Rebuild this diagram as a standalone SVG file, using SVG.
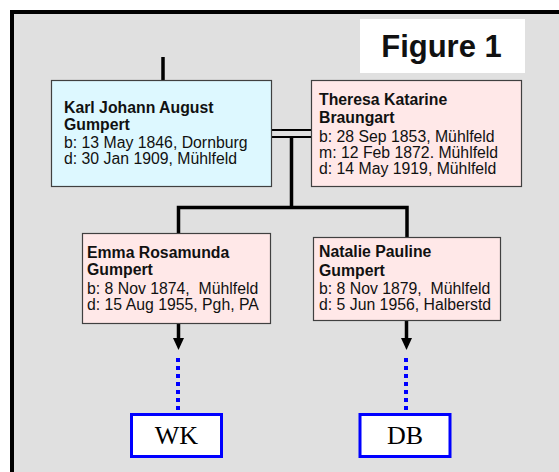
<svg xmlns="http://www.w3.org/2000/svg" width="559" height="472" viewBox="0 0 559 472">
<style>
.frame{fill:#e0e0e0;stroke:#000;stroke-width:4}
.box{stroke:#404040;stroke-width:1.2}
.m{fill:#ddf8ff}
.f{fill:#ffe8e8}
.name{font-family:"Liberation Sans",Arial,sans-serif;font-weight:bold;font-size:15.8px;fill:#111}
.det{font-family:"Liberation Sans",Arial,sans-serif;font-size:15.8px;fill:#111;white-space:pre}
.ln{stroke:#000;stroke-width:3.5;fill:none}
.dbl{stroke:#000;stroke-width:2;fill:none}
.dot{stroke:#0000ff;stroke-width:4;stroke-dasharray:4 4;fill:none}
.ref{fill:#fff;stroke:#0000ff;stroke-width:3}
.reft{font-family:"Liberation Serif","Times New Roman",serif;font-size:26px;fill:#000;text-anchor:middle}
</style>
<defs>
<marker id="ah" markerUnits="userSpaceOnUse" markerWidth="12" markerHeight="11" refX="2" refY="5.5" orient="auto" viewBox="0 0 12 11">
<path d="M0,0 L12,5.5 L0,11 Z" fill="#000"/>
</marker>
</defs>
<rect x="0" y="0" width="559" height="472" fill="#fff"/>
<rect class="frame" x="12" y="12" width="600" height="520"/>
<g id="title">
<rect x="360" y="19" width="165" height="54" fill="#fff"/>
<text x="441.5" y="57" font-family="Liberation Sans,Arial,sans-serif" font-weight="bold" font-size="31" text-anchor="middle" fill="#111">Figure 1</text>
</g>
<g id="connectors">
<line class="ln" x1="163" y1="57" x2="163" y2="80"/>
<line class="dbl" x1="272" y1="130" x2="311" y2="130"/>
<line class="dbl" x1="272" y1="137" x2="311" y2="137"/>
<line class="ln" x1="291.5" y1="137" x2="291.5" y2="207.5"/>
<polyline class="ln" points="178.5,233 178.5,207.5 407,207.5 407,237"/>
<line class="ln" x1="178.5" y1="324" x2="178.5" y2="340" marker-end="url(#ah)"/>
<line class="ln" x1="406.5" y1="321" x2="406.5" y2="340" marker-end="url(#ah)"/>
<line class="dot" x1="178" y1="358" x2="178" y2="412"/>
<line class="dot" x1="406" y1="358" x2="406" y2="412"/>
</g>
<g id="karl">
<rect class="box m" x="51.5" y="80.5" width="220" height="106"/>
<text class="name" x="64" y="113">Karl Johann August</text>
<text class="name" x="64" y="130">Gumpert</text>
<text class="det" x="64" y="148">b: 13 May 1846, Dornburg</text>
<text class="det" x="64" y="164">d: 30 Jan 1909, Mühlfeld</text>
</g>
<g id="theresa">
<rect class="box f" x="311.5" y="80.5" width="210" height="106"/>
<text class="name" x="319" y="105">Theresa Katarine</text>
<text class="name" x="319" y="123">Braungart</text>
<text class="det" x="319" y="142">b: 28 Sep 1853, Mühlfeld</text>
<text class="det" x="319" y="158">m: 12 Feb 1872. Mühlfeld</text>
<text class="det" x="319" y="174">d: 14 May 1919, Mühlfeld</text>
</g>
<g id="emma">
<rect class="box f" x="82.5" y="233.5" width="188" height="90"/>
<text class="name" x="87" y="258">Emma Rosamunda</text>
<text class="name" x="87" y="275">Gumpert</text>
<text class="det" x="87" y="294">b: 8 Nov 1874,  Mühlfeld</text>
<text class="det" x="87" y="310">d: 15 Aug 1955, Pgh, PA</text>
</g>
<g id="natalie">
<rect class="box f" x="313.5" y="237.5" width="187" height="83"/>
<text class="name" x="319" y="257">Natalie Pauline</text>
<text class="name" x="319" y="276">Gumpert</text>
<text class="det" x="319" y="294">b: 8 Nov 1879,  Mühlfeld</text>
<text class="det" x="319" y="310">d: 5 Jun 1956, Halberstd</text>
</g>
<g id="wk">
<rect class="ref" x="131.5" y="414.5" width="90" height="42"/>
<text class="reft" x="176.5" y="444">WK</text>
</g>
<g id="db">
<rect class="ref" x="360" y="414.5" width="90" height="42"/>
<text class="reft" x="405" y="444">DB</text>
</g>
</svg>
